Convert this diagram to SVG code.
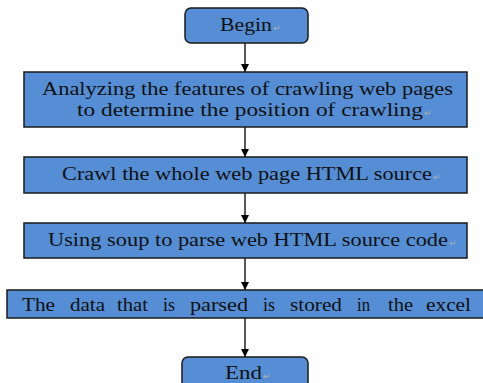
<svg xmlns="http://www.w3.org/2000/svg" width="483" height="383" viewBox="0 0 483 383">
<defs>
<style>
.box{fill:#558ED5;stroke:#1a1a1a;stroke-width:1.5}
.t{font-family:"Liberation Serif","Times New Roman",serif;font-size:18px;fill:#111}
.rm{font-family:"DejaVu Sans",sans-serif;font-size:9px;fill:#b0b0b0}
.ln{stroke:#000;stroke-width:1.3;fill:none}
</style>
<marker id="ah" viewBox="0 0 10 10" refX="10" refY="5" markerWidth="8" markerHeight="8" markerUnits="userSpaceOnUse" orient="auto">
<path d="M0,0 L10,5 L0,10 z" fill="#000"/>
</marker>
</defs>
<rect width="483" height="383" fill="#fff"/>
<g id="connectors">
<line class="ln" x1="245" y1="43" x2="245" y2="72" marker-end="url(#ah)"/>
<line class="ln" x1="245" y1="127" x2="245" y2="157" marker-end="url(#ah)"/>
<line class="ln" x1="245" y1="193" x2="245" y2="223" marker-end="url(#ah)"/>
<line class="ln" x1="245" y1="258" x2="245" y2="290" marker-end="url(#ah)"/>
<line class="ln" x1="245" y1="318" x2="245" y2="357" marker-end="url(#ah)"/>
</g>
<g id="begin">
<rect class="box" x="185" y="8" width="123" height="35" rx="6"/>
<text class="t" x="220" y="31" textLength="52" lengthAdjust="spacingAndGlyphs">Begin</text>
<text class="rm" x="273" y="31">↵</text>
</g>
<g id="analyze">
<rect class="box" x="24" y="72" width="443" height="55"/>
<text class="t" x="42" y="95" textLength="411" lengthAdjust="spacingAndGlyphs">Analyzing the features of crawling web pages</text>
<text class="t" x="77" y="116" textLength="346" lengthAdjust="spacingAndGlyphs">to determine the position of crawling</text>
<text class="rm" x="424" y="116">↵</text>
</g>
<g id="crawl">
<rect class="box" x="24" y="157" width="443" height="36"/>
<text class="t" x="62" y="180" textLength="370" lengthAdjust="spacingAndGlyphs">Crawl the whole web page HTML source</text>
<text class="rm" x="433" y="180">↵</text>
</g>
<g id="parse">
<rect class="box" x="24" y="223" width="443" height="35"/>
<text class="t" x="48" y="246" textLength="400" lengthAdjust="spacingAndGlyphs">Using soup to parse web HTML source code</text>
<text class="rm" x="449" y="246">↵</text>
</g>
<g id="store">
<rect class="box" x="7" y="290" width="480" height="28"/>
<text class="t" x="22" y="311" textLength="33" lengthAdjust="spacingAndGlyphs">The</text>
<text class="t" x="70" y="311" textLength="35" lengthAdjust="spacingAndGlyphs">data</text>
<text class="t" x="117" y="311" textLength="31" lengthAdjust="spacingAndGlyphs">that</text>
<text class="t" x="163" y="311" textLength="12" lengthAdjust="spacingAndGlyphs">is</text>
<text class="t" x="190" y="311" textLength="58" lengthAdjust="spacingAndGlyphs">parsed</text>
<text class="t" x="263" y="311" textLength="12" lengthAdjust="spacingAndGlyphs">is</text>
<text class="t" x="290" y="311" textLength="52" lengthAdjust="spacingAndGlyphs">stored</text>
<text class="t" x="357" y="311" textLength="13" lengthAdjust="spacingAndGlyphs">in</text>
<text class="t" x="388" y="311" textLength="25" lengthAdjust="spacingAndGlyphs">the</text>
<text class="t" x="426" y="311" textLength="45" lengthAdjust="spacingAndGlyphs">excel</text>
</g>
<g id="end">
<rect class="box" x="182" y="357" width="126" height="36" rx="6"/>
<text class="t" x="225" y="379" textLength="37" lengthAdjust="spacingAndGlyphs">End</text>
<text class="rm" x="263" y="379">↵</text>
</g>
</svg>
